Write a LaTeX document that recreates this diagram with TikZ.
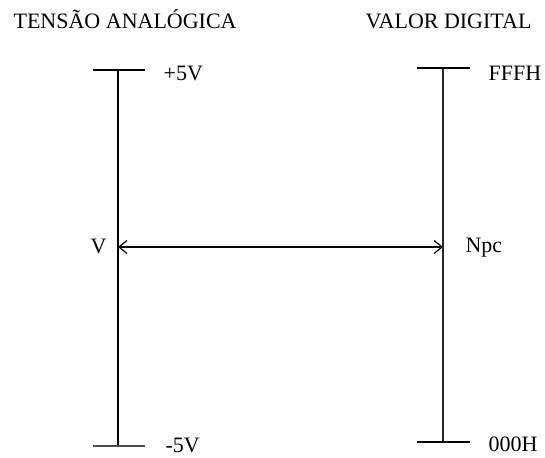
\documentclass[tikz,border=0pt]{standalone}
\usepackage{fontspec}
\setmainfont{Liberation Serif}
\usetikzlibrary{arrows.meta}

\begin{document}
\begin{tikzpicture}[x=1pt, y=-1pt, line width=1.2pt,
  rotulo/.style={anchor=base west, inner sep=0pt, font=\fontsize{22}{26}\selectfont},
  seta/.style={{Straight Barb[length=8pt,width=13pt]}-{Straight Barb[length=8pt,width=13pt]}}]
  \useasboundingbox (0,0) rectangle (545,457);

  % titulos
  \node[rotulo] (tensao) at (13,29) {TENSÃO ANALÓGICA};
  \node[rotulo] (digital) at (365,29) {VALOR DIGITAL};

  % escala analogica
  \coordinate (atop) at (118,70);
  \coordinate (abot) at (118,446);
  \draw (atop) -- (abot);
  \draw ([xshift=-25pt]atop) -- ([xshift=27pt]atop);
  \draw[black!70] ([xshift=-25pt]abot) -- ([xshift=27pt]abot);
  \node[rotulo] (mais) at (163,81) {+5V};
  \node[rotulo] (menos) at (165,452) {-5V};

  % escala digital
  \coordinate (dtop) at (443,68);
  \coordinate (dbot) at (443,442);
  \draw[black!85] (dtop) -- (dbot);
  \draw ([xshift=-26pt]dtop) -- ([xshift=27pt]dtop);
  \draw ([xshift=-26pt]dbot) -- ([xshift=27pt]dbot);
  \node[rotulo] (fffh) at (488,81) {FFFH};
  \node[rotulo] (zero) at (488,451) {000H};

  % conversao
  \coordinate (vl) at (118,247);
  \coordinate (vr) at (443,247);
  \node[rotulo] (v) at (90,253) {V};
  \node[rotulo] (npc) at (465,252) {Npc};
  \draw[seta] (vl) -- (vr);
\end{tikzpicture}
\end{document}
